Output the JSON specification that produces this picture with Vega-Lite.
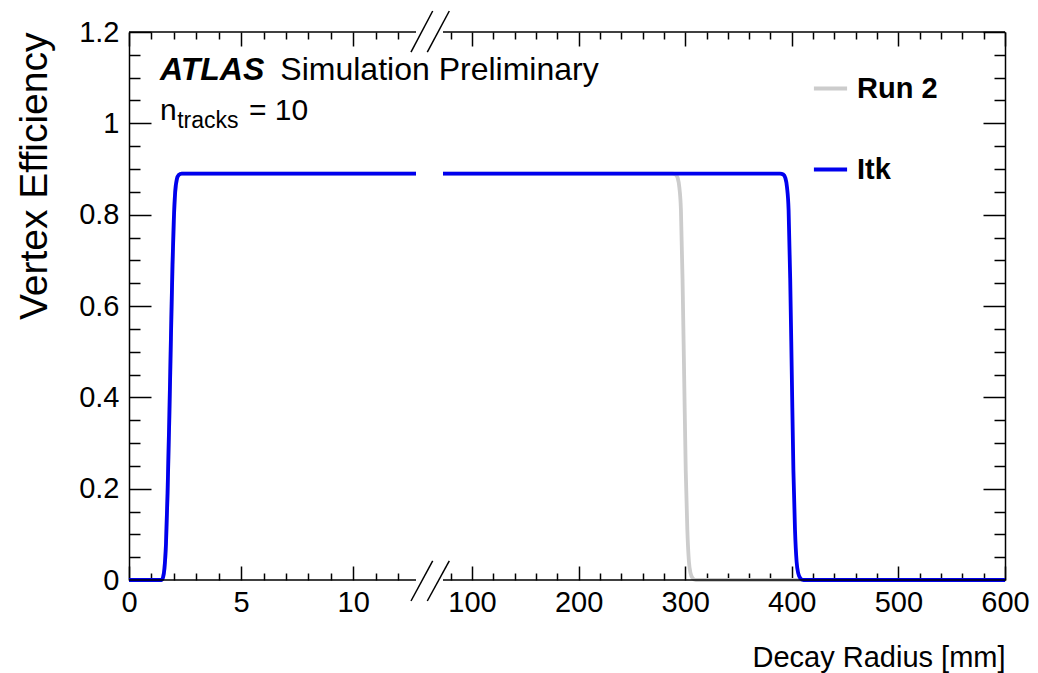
{
  "$schema": "https://vega.github.io/schema/vega-lite/v6.json",
  "width": 876,
  "height": 548,
  "autosize": "none",
  "padding": {"left": 129, "top": 32, "right": 33, "bottom": 93},
  "background": "white",
  "config": {
    "view": {"stroke": null},
    "font": "Liberation Sans",
    "axis": {
      "domainColor": "black", "tickColor": "black", "domainWidth": 1.5, "tickWidth": 1.5,
      "labelColor": "black", "titleColor": "black", "labelFont": "Liberation Sans", "titleFont": "Liberation Sans",
      "titleFontWeight": "normal", "labelFlush": false, "labelOverlap": false, "grid": false
    }
  },
  "datasets": {
    "curves": [
      {"series": "Run 2", "seg": "L", "r": 0, "eff": 0},
      {"series": "Run 2", "seg": "L", "r": 1.45, "eff": 0},
      {"series": "Run 2", "seg": "L", "r": 1.52, "eff": 0.006},
      {"series": "Run 2", "seg": "L", "r": 1.58, "eff": 0.025},
      {"series": "Run 2", "seg": "L", "r": 1.65, "eff": 0.08},
      {"series": "Run 2", "seg": "L", "r": 1.72, "eff": 0.19},
      {"series": "Run 2", "seg": "L", "r": 1.8, "eff": 0.36},
      {"series": "Run 2", "seg": "L", "r": 1.87, "eff": 0.53},
      {"series": "Run 2", "seg": "L", "r": 1.94, "eff": 0.69},
      {"series": "Run 2", "seg": "L", "r": 2.0, "eff": 0.79},
      {"series": "Run 2", "seg": "L", "r": 2.06, "eff": 0.85},
      {"series": "Run 2", "seg": "L", "r": 2.13, "eff": 0.877},
      {"series": "Run 2", "seg": "L", "r": 2.22, "eff": 0.887},
      {"series": "Run 2", "seg": "L", "r": 2.35, "eff": 0.89},
      {"series": "Run 2", "seg": "L", "r": 12.8, "eff": 0.89},
      {"series": "Run 2", "seg": "R", "r": 72.8, "eff": 0.89},
      {"series": "Run 2", "seg": "R", "r": 288, "eff": 0.89},
      {"series": "Run 2", "seg": "R", "r": 291, "eff": 0.888},
      {"series": "Run 2", "seg": "R", "r": 293, "eff": 0.88},
      {"series": "Run 2", "seg": "R", "r": 294.5, "eff": 0.86},
      {"series": "Run 2", "seg": "R", "r": 296, "eff": 0.81},
      {"series": "Run 2", "seg": "R", "r": 297.5, "eff": 0.66},
      {"series": "Run 2", "seg": "R", "r": 299, "eff": 0.45},
      {"series": "Run 2", "seg": "R", "r": 300.5, "eff": 0.24},
      {"series": "Run 2", "seg": "R", "r": 302, "eff": 0.11},
      {"series": "Run 2", "seg": "R", "r": 303.5, "eff": 0.04},
      {"series": "Run 2", "seg": "R", "r": 305, "eff": 0.015},
      {"series": "Run 2", "seg": "R", "r": 307, "eff": 0.004},
      {"series": "Run 2", "seg": "R", "r": 310, "eff": 0},
      {"series": "Run 2", "seg": "R", "r": 600, "eff": 0},
      {"series": "Itk", "seg": "L", "r": 0, "eff": 0},
      {"series": "Itk", "seg": "L", "r": 1.45, "eff": 0},
      {"series": "Itk", "seg": "L", "r": 1.52, "eff": 0.006},
      {"series": "Itk", "seg": "L", "r": 1.58, "eff": 0.025},
      {"series": "Itk", "seg": "L", "r": 1.65, "eff": 0.08},
      {"series": "Itk", "seg": "L", "r": 1.72, "eff": 0.19},
      {"series": "Itk", "seg": "L", "r": 1.8, "eff": 0.36},
      {"series": "Itk", "seg": "L", "r": 1.87, "eff": 0.53},
      {"series": "Itk", "seg": "L", "r": 1.94, "eff": 0.69},
      {"series": "Itk", "seg": "L", "r": 2.0, "eff": 0.79},
      {"series": "Itk", "seg": "L", "r": 2.06, "eff": 0.85},
      {"series": "Itk", "seg": "L", "r": 2.13, "eff": 0.877},
      {"series": "Itk", "seg": "L", "r": 2.22, "eff": 0.887},
      {"series": "Itk", "seg": "L", "r": 2.35, "eff": 0.89},
      {"series": "Itk", "seg": "L", "r": 12.8, "eff": 0.89},
      {"series": "Itk", "seg": "R", "r": 72.8, "eff": 0.89},
      {"series": "Itk", "seg": "R", "r": 389, "eff": 0.89},
      {"series": "Itk", "seg": "R", "r": 392, "eff": 0.888},
      {"series": "Itk", "seg": "R", "r": 394, "eff": 0.88},
      {"series": "Itk", "seg": "R", "r": 395.5, "eff": 0.86},
      {"series": "Itk", "seg": "R", "r": 397, "eff": 0.81},
      {"series": "Itk", "seg": "R", "r": 398.5, "eff": 0.66},
      {"series": "Itk", "seg": "R", "r": 400, "eff": 0.45},
      {"series": "Itk", "seg": "R", "r": 401.5, "eff": 0.24},
      {"series": "Itk", "seg": "R", "r": 403, "eff": 0.11},
      {"series": "Itk", "seg": "R", "r": 404.5, "eff": 0.04},
      {"series": "Itk", "seg": "R", "r": 406, "eff": 0.015},
      {"series": "Itk", "seg": "R", "r": 408, "eff": 0.004},
      {"series": "Itk", "seg": "R", "r": 411, "eff": 0},
      {"series": "Itk", "seg": "R", "r": 600, "eff": 0}
    ]
  },
  "resolve": {"scale": {"x": "shared", "y": "shared"}, "axis": {"x": "independent", "y": "independent"}},
  "layer": [
    {
      "data": {"name": "curves"},
      "transform": [{"filter": "datum.series === 'Run 2'"}],
      "mark": {"type": "line", "strokeWidth": 3.8, "interpolate": "monotone"},
      "encoding": {
        "x": {"field": "r", "type": "quantitative",
          "scale": {"domain": [0, 12.8, 72.8, 600], "range": [0, 287, 314, 876], "nice": false, "zero": false},
          "axis": {"orient": "bottom", "values": [0, 5, 10, 100, 200, 300, 400, 500, 600], "format": "d",
            "tickSize": -14, "labelPadding": 22, "labelFontSize": 29, "domain": false,
            "title": "Decay Radius [mm]", "titleFontSize": 29, "titleAnchor": "end", "titlePadding": 26}},
        "y": {"field": "eff", "type": "quantitative",
          "scale": {"domain": [0, 1.2], "nice": false, "zero": false},
          "axis": {"orient": "left", "values": [0, 0.2, 0.4, 0.6, 0.8, 1, 1.2], "format": "~g",
            "tickSize": -22, "labelPadding": 32, "labelFontSize": 29,
            "title": "Vertex Efficiency", "titleFontSize": 39, "titleAnchor": "end", "titlePadding": 24}},
        "color": {"field": "series", "type": "nominal",
          "scale": {"domain": ["Run 2", "Itk"], "range": ["#cccccc", "#0000ee"]},
          "legend": {"orient": "none", "legendX": 683, "legendY": 38, "title": null, "symbolType": "stroke",
            "symbolSize": 1100, "symbolStrokeWidth": 3.8, "labelFontSize": 29, "labelFontWeight": "bold",
            "labelFont": "Liberation Sans", "labelColor": "black", "rowPadding": 47, "labelOffset": 8}},
        "detail": {"field": "seg"}
      }
    },
    {
      "data": {"name": "curves"},
      "transform": [{"filter": "datum.series === 'Itk'"}],
      "mark": {"type": "line", "strokeWidth": 3.8, "interpolate": "monotone"},
      "encoding": {
        "x": {"field": "r", "type": "quantitative", "axis": null},
        "y": {"field": "eff", "type": "quantitative", "axis": null},
        "color": {"field": "series", "type": "nominal"},
        "detail": {"field": "seg"}
      }
    },
    {
      "data": {"values": [{}]},
      "mark": {"type": "rule", "color": "black", "strokeWidth": 1.5},
      "encoding": {
        "x": {"datum": 0, "type": "quantitative",
          "axis": {"orient": "bottom", "values": [1, 2, 3, 4, 6, 7, 8, 9, 11, 12, 80, 120, 140, 160, 180, 220, 240, 260, 280, 320, 340, 360, 380, 420, 440, 460, 480, 520, 540, 560, 580],
            "tickSize": -7, "labels": false, "domain": false, "title": null}},
        "x2": {"datum": 12.8},
        "y": {"datum": 0, "type": "quantitative",
          "axis": {"orient": "left", "values": [0.05, 0.1, 0.15, 0.25, 0.3, 0.35, 0.45, 0.5, 0.55, 0.65, 0.7, 0.75, 0.85, 0.9, 0.95, 1.05, 1.1, 1.15],
            "tickSize": -11, "labels": false, "domain": false, "title": null}}
      }
    },
    {
      "data": {"values": [{}]},
      "mark": {"type": "rule", "color": "black", "strokeWidth": 1.5},
      "encoding": {
        "x": {"datum": 72.8, "type": "quantitative",
          "axis": {"orient": "top", "values": [0, 5, 10, 100, 200, 300, 400, 500, 600],
            "tickSize": -14, "labels": false, "domain": false, "title": null}},
        "x2": {"datum": 600},
        "y": {"datum": 0, "type": "quantitative",
          "axis": {"orient": "right", "values": [0, 0.2, 0.4, 0.6, 0.8, 1, 1.2],
            "tickSize": -22, "labels": false, "domain": true, "title": null}}
      }
    },
    {
      "data": {"values": [{}]},
      "mark": {"type": "rule", "color": "black", "strokeWidth": 1.5},
      "encoding": {
        "x": {"datum": 0, "type": "quantitative",
          "axis": {"orient": "top", "values": [1, 2, 3, 4, 6, 7, 8, 9, 11, 12, 80, 120, 140, 160, 180, 220, 240, 260, 280, 320, 340, 360, 380, 420, 440, 460, 480, 520, 540, 560, 580],
            "tickSize": -7, "labels": false, "domain": false, "title": null}},
        "x2": {"datum": 12.8},
        "y": {"datum": 1.2, "type": "quantitative",
          "axis": {"orient": "right", "values": [0.05, 0.1, 0.15, 0.25, 0.3, 0.35, 0.45, 0.5, 0.55, 0.65, 0.7, 0.75, 0.85, 0.9, 0.95, 1.05, 1.1, 1.15],
            "tickSize": -11, "labels": false, "domain": false, "title": null}}
      }
    },
    {
      "data": {"values": [{}]},
      "mark": {"type": "rule", "color": "black", "strokeWidth": 1.5},
      "encoding": {
        "x": {"datum": 72.8, "type": "quantitative", "axis": null},
        "x2": {"datum": 600},
        "y": {"datum": 1.2, "type": "quantitative", "axis": null}
      }
    },
    {
      "data": {"values": [{}]},
      "mark": {"type": "rule", "color": "black", "strokeWidth": 1.5, "clip": false},
      "encoding": {
        "x": {"datum": 12.576, "type": "quantitative", "axis": null},
        "x2": {"datum": 49.9},
        "y": {"datum": -0.046, "type": "quantitative", "axis": null},
        "y2": {"datum": 0.042}
      }
    },
    {
      "data": {"values": [{}]},
      "mark": {"type": "rule", "color": "black", "strokeWidth": 1.5, "clip": false},
      "encoding": {
        "x": {"datum": 37.9, "type": "quantitative", "axis": null},
        "x2": {"datum": 78.7},
        "y": {"datum": -0.046, "type": "quantitative", "axis": null},
        "y2": {"datum": 0.042}
      }
    },
    {
      "data": {"values": [{}]},
      "mark": {"type": "rule", "color": "black", "strokeWidth": 1.5, "clip": false},
      "encoding": {
        "x": {"datum": 12.576, "type": "quantitative", "axis": null},
        "x2": {"datum": 49.9},
        "y": {"datum": 1.156, "type": "quantitative", "axis": null},
        "y2": {"datum": 1.246}
      }
    },
    {
      "data": {"values": [{}]},
      "mark": {"type": "rule", "color": "black", "strokeWidth": 1.5, "clip": false},
      "encoding": {
        "x": {"datum": 37.9, "type": "quantitative", "axis": null},
        "x2": {"datum": 78.7},
        "y": {"datum": 1.156, "type": "quantitative", "axis": null},
        "y2": {"datum": 1.246}
      }
    },
    {
      "data": {"values": [{}]},
      "mark": {"type": "text", "align": "left", "baseline": "alphabetic", "fontSize": 32, "fontWeight": "bold", "fontStyle": "italic", "font": "Liberation Sans", "color": "black"},
      "encoding": {
        "x": {"datum": 1.38, "type": "quantitative", "axis": null},
        "y": {"datum": 1.095, "type": "quantitative", "axis": null},
        "text": {"value": "ATLAS"}
      }
    },
    {
      "data": {"values": [{}]},
      "mark": {"type": "text", "align": "left", "baseline": "alphabetic", "fontSize": 32, "font": "Liberation Sans", "color": "black"},
      "encoding": {
        "x": {"datum": 6.75, "type": "quantitative", "axis": null},
        "y": {"datum": 1.095, "type": "quantitative", "axis": null},
        "text": {"value": "Simulation Preliminary"}
      }
    },
    {
      "data": {"values": [{}]},
      "mark": {"type": "text", "align": "left", "baseline": "alphabetic", "fontSize": 30, "font": "Liberation Sans", "color": "black"},
      "encoding": {
        "x": {"datum": 1.38, "type": "quantitative", "axis": null},
        "y": {"datum": 1.007, "type": "quantitative", "axis": null},
        "text": {"value": "n"}
      }
    },
    {
      "data": {"values": [{}]},
      "mark": {"type": "text", "align": "left", "baseline": "alphabetic", "fontSize": 23, "font": "Liberation Sans", "color": "black"},
      "encoding": {
        "x": {"datum": 2.15, "type": "quantitative", "axis": null},
        "y": {"datum": 0.99, "type": "quantitative", "axis": null},
        "text": {"value": "tracks"}
      }
    },
    {
      "data": {"values": [{}]},
      "mark": {"type": "text", "align": "left", "baseline": "alphabetic", "fontSize": 30, "font": "Liberation Sans", "color": "black"},
      "encoding": {
        "x": {"datum": 5.35, "type": "quantitative", "axis": null},
        "y": {"datum": 1.007, "type": "quantitative", "axis": null},
        "text": {"value": "= 10"}
      }
    }
  ]
}
